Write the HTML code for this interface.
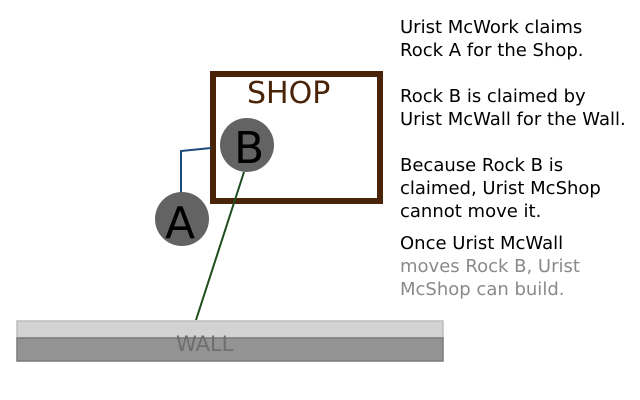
<!DOCTYPE html>
<html><head><meta charset="utf-8"><style>
body{margin:0;width:640px;height:400px;background:#fff;position:relative;overflow:hidden;font-family:"DejaVu Sans","Liberation Sans",sans-serif}
.t{position:absolute;left:400px;font-size:18px;line-height:23px;color:#000;white-space:nowrap}
</style></head><body>
<div style="position:absolute;left:210px;top:71px;width:161px;height:121px;border:6px solid #4a2408"></div>
<div style="position:absolute;left:247px;top:74px;font-size:30px;color:#4a2408;line-height:40px">SHOP</div>
<svg width="640" height="400" style="position:absolute;left:0;top:0">
<polyline points="181,193 181,151 211,148" fill="none" stroke="#1a4a7a" stroke-width="2"/>
<line x1="244" y1="172" x2="196" y2="320" stroke="#1d4d1d" stroke-width="2"/>
<circle cx="247" cy="145" r="27" fill="#636363"/>
<circle cx="182" cy="219" r="27" fill="#636363"/>
<text x="234" y="163" font-size="44" font-family="DejaVu Sans, sans-serif" fill="#000">B</text>
<text x="165" y="238" font-size="44" font-family="DejaVu Sans, sans-serif" fill="#000">A</text>
<rect x="17" y="321" width="426" height="17" fill="#d2d2d2" stroke="#bcbcbc" stroke-width="1.5"/>
<rect x="17" y="338" width="426" height="23" fill="#939393" stroke="#7a7a7a" stroke-width="1.5"/>
<text x="176" y="351" font-size="21" font-family="DejaVu Sans, sans-serif" fill="#6e6e6e">WALL</text>
</svg>
<div class="t" style="top:16px">Urist McWork claims<br>Rock A for the Shop.</div>
<div class="t" style="top:85px">Rock B is claimed by<br>Urist McWall for the Wall.</div>
<div class="t" style="top:154px">Because Rock B is<br>claimed, Urist McShop<br>cannot move it.</div>
<div class="t" style="top:232px">Once Urist McWall<br><span style="color:#8a8a8a">moves Rock B, Urist<br>McShop can build.</span></div>
</body></html>
